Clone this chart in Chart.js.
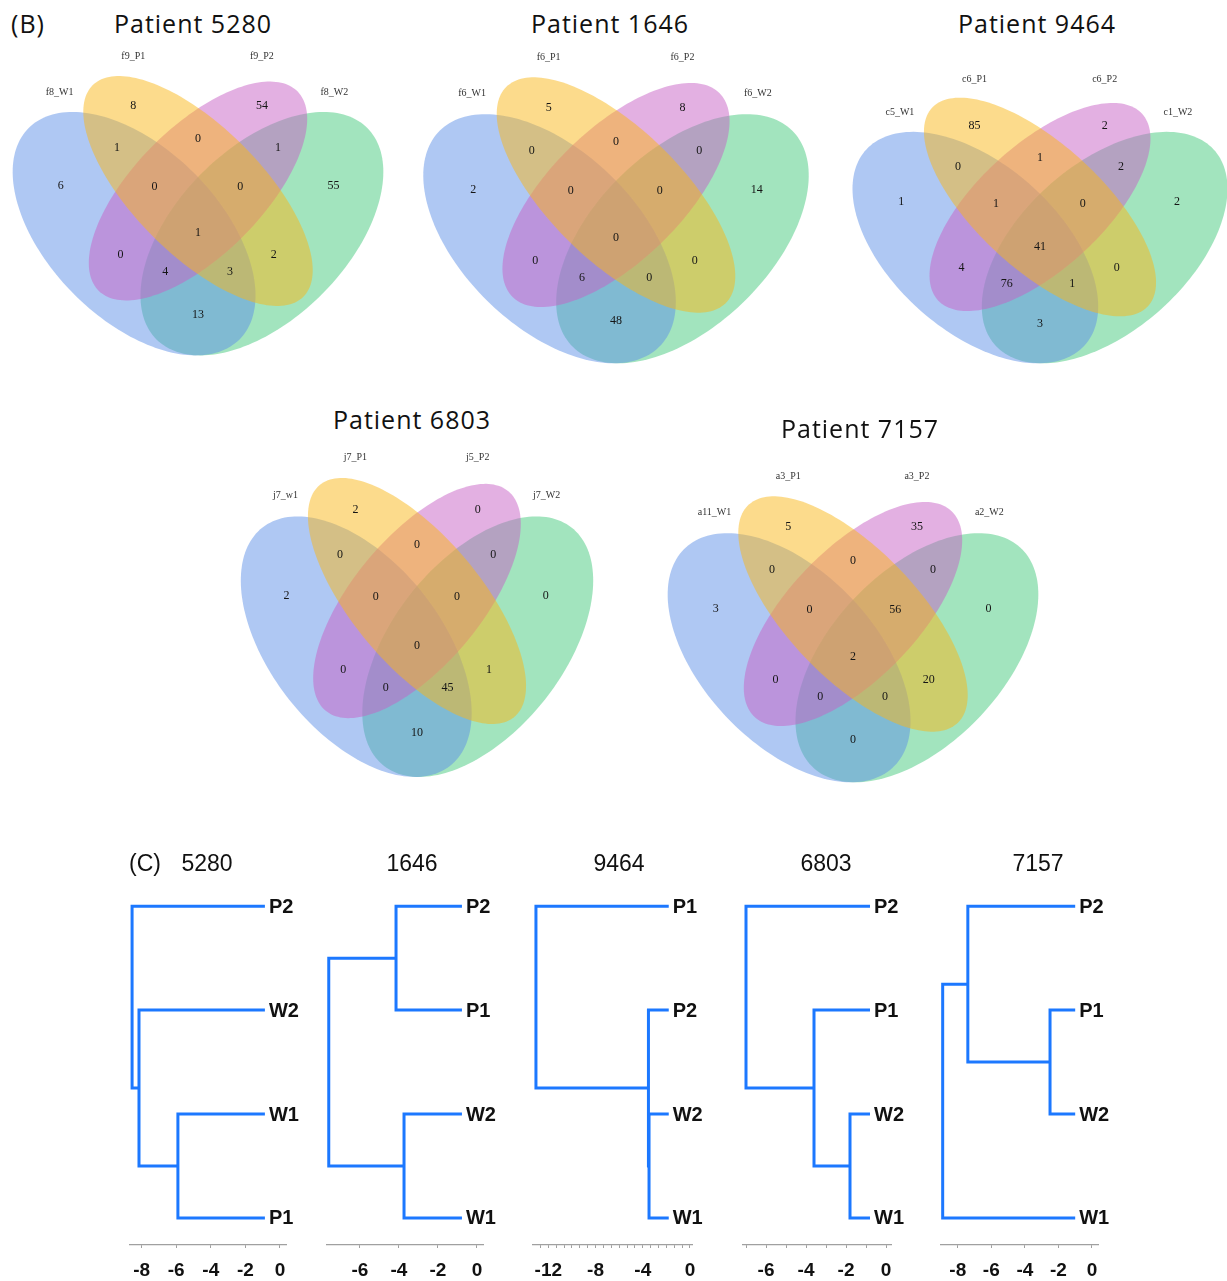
<!DOCTYPE html>
<html>
<head>
<meta charset="utf-8">
<script src="https://cdn.jsdelivr.net/npm/chart.js@4.4.1/dist/chart.umd.min.js"></script>
<style>
  body { margin: 0; background: #fff; }
  #page { position: relative; width: 1227px; height: 1281px; overflow: hidden; }
  #page canvas { position: absolute; }
  .txt { position: absolute; transform: translate(-50%, -50%); white-space: nowrap; line-height: 1; color: #111; }
  .vt { font-family: "Open Sans", sans-serif; font-size: 25px; letter-spacing: 1px; }
  .dt { font-family: "Liberation Sans", Arial, sans-serif; font-size: 23px; }
</style>
</head>
<body>
<div id="page"></div>
<script>
// --- data ---
const patients = ['5280', '1646', '9464', '6803', '7157'];

// Venn regions, same order for every patient
const regionKeys = ['P1', 'P2', 'W1', 'W2', 'W1P1', 'P1P2', 'P2W2', 'W1P1P2', 'P1P2W2',
                    'W1P1P2W2', 'W1P2', 'W1P2W2', 'W1P1W2', 'P1W2', 'W1W2'];

// set names: W1, P1, P2, W2
const sets5280 = ['f8_W1', 'f9_P1', 'f9_P2', 'f8_W2'];
const sets1646 = ['f6_W1', 'f6_P1', 'f6_P2', 'f6_W2'];
const sets9464 = ['c5_W1', 'c6_P1', 'c6_P2', 'c1_W2'];
const sets6803 = ['j7_w1', 'j7_P1', 'j5_P2', 'j7_W2'];
const sets7157 = ['a11_W1', 'a3_P1', 'a3_P2', 'a2_W2'];

const counts5280 = [8, 54, 6, 55, 1, 0, 1, 0, 0, 1, 0, 4, 3, 2, 13];
const counts1646 = [5, 8, 2, 14, 0, 0, 0, 0, 0, 0, 0, 6, 0, 0, 48];
const counts9464 = [85, 2, 1, 2, 0, 1, 2, 1, 0, 41, 4, 76, 1, 0, 3];
const counts6803 = [2, 0, 2, 0, 0, 0, 0, 0, 0, 0, 0, 0, 45, 1, 10];
const counts7157 = [5, 35, 3, 0, 0, 0, 0, 0, 56, 2, 0, 0, 0, 20, 0];

// dendrograms: leaf order (top to bottom) and merges [childA, childB, height]
const leaves5280 = ['P2', 'W2', 'W1', 'P1'];
const leaves1646 = ['P2', 'P1', 'W2', 'W1'];
const leaves9464 = ['P1', 'P2', 'W2', 'W1'];
const leaves6803 = ['P2', 'P1', 'W2', 'W1'];
const leaves7157 = ['P2', 'P1', 'W2', 'W1'];

const merges5280 = [[2, 3, -5.9], [1, 4, -8.15], [0, 5, -8.55]];
const merges1646 = [[0, 1, -4.15], [2, 3, -3.74], [4, 5, -7.6]];
const merges9464 = [[2, 3, -3.47], [1, 4, -3.52], [0, 5, -13.05]];
const merges6803 = [[2, 3, -1.8], [1, 4, -3.6], [0, 5, -7.0]];
const merges7157 = [[1, 2, -2.5], [0, 4, -7.4], [5, 3, -8.9]];

const leafEnd = [-0.87, -0.77, -1.8, -0.8, -1.0];

const tickLabels5280 = [-8, -6, -4, -2, 0];
const tickLabels1646 = [-6, -4, -2, 0];
const tickLabels9464 = [-12, -8, -4, 0];
const tickLabels6803 = [-6, -4, -2, 0];
const tickLabels7157 = [-8, -6, -4, -2, 0];

// --- layout ---
const page = document.getElementById('page');

function addCanvas(left, top, w, h) {
    const c = document.createElement('canvas');
    c.width = w; c.height = h;
    c.style.left = left + 'px'; c.style.top = top + 'px';
    c.style.width = w + 'px'; c.style.height = h + 'px';
    page.appendChild(c);
    return c;
}

function addText(text, x, y, cls) {
    const d = document.createElement('div');
    d.className = 'txt ' + cls;
    d.style.left = x + 'px'; d.style.top = y + 'px';
    d.textContent = text;
    page.appendChild(d);
}

// Venn boxes: [left, top, width, height, centreX, centreY, pxPerUnitX, pxPerUnitY]
const vennBoxes = [
    [0, 40, 410, 330, 198, 191, 426, 427],
    [410, 40, 415, 330, 616, 195, 443, 437],
    [825, 40, 402, 330, 1040, 207, 431, 406],
    [225, 440, 395, 345, 417, 601, 405, 457],
    [640, 440, 420, 345, 853, 614, 426, 437]
];
const vennTitlePos = [[193, 23], [610, 23], [1037, 23], [412, 419], [860, 428]];

// ellipse shapes in unit space (centre at inner crossing), draw order green, blue, pink, yellow
const ellipses = [
    { cx: 0.15, cy: -0.10, a: 0.35, b: 0.20, rot: 45, color: 'rgba(69, 201, 125, 0.5)' },
    { cx: -0.15, cy: -0.10, a: 0.35, b: 0.20, rot: 135, color: 'rgba(95, 145, 231, 0.5)' },
    { cx: 0, cy: 0, a: 0.33, b: 0.15, rot: 45, color: 'rgba(199, 97, 197, 0.5)' },
    { cx: 0, cy: 0, a: 0.35, b: 0.15, rot: 135, color: 'rgba(249, 183, 25, 0.5)' }
];
const setLabelPos = [[-0.325, 0.232], [-0.152, 0.315], [0.15, 0.315], [0.32, 0.232]];
const regionPos = [
    [-0.152, 0.20], [0.15, 0.20], [-0.322, 0.012], [0.318, 0.012],
    [-0.19, 0.10], [0, 0.122], [0.188, 0.10], [-0.102, 0.009], [0.099, 0.009],
    [0, -0.099], [-0.182, -0.15], [-0.077, -0.19], [0.075, -0.19], [0.178, -0.15], [0, -0.289]
];

const vennPlugin = {
    id: 'venn',
    beforeDatasetsDraw(chart) {
        const { ctx, scales: { x, y } } = chart;
        ellipses.forEach(e => {
            const r = e.rot * Math.PI / 180;
            ctx.save();
            ctx.beginPath();
            for (let k = 0; k <= 180; k++) {
                const t = k / 180 * 2 * Math.PI;
                const ux = e.cx + e.a * Math.cos(t) * Math.cos(r) - e.b * Math.sin(t) * Math.sin(r);
                const uy = e.cy + e.a * Math.cos(t) * Math.sin(r) + e.b * Math.sin(t) * Math.cos(r);
                const px = x.getPixelForValue(ux), py = y.getPixelForValue(uy);
                if (k === 0) ctx.moveTo(px, py); else ctx.lineTo(px, py);
            }
            ctx.closePath();
            ctx.fillStyle = e.color;
            ctx.fill();
            ctx.restore();
        });
    },
    afterDatasetsDraw(chart, args, opts) {
        const { ctx, scales: { x, y } } = chart;
        ctx.save();
        ctx.textAlign = 'center';
        ctx.textBaseline = 'middle';
        ctx.fillStyle = '#151515';
        ctx.font = '12px "Liberation Serif", serif';
        const meta = chart.getDatasetMeta(0);
        meta.data.forEach((pt, k) => {
            ctx.fillText(String(chart.data.datasets[0].data[k].v), pt.x, pt.y);
        });
        ctx.fillStyle = '#333';
        ctx.font = '10px "Liberation Serif", serif';
        opts.names.forEach((n, k) => {
            ctx.fillText(n, x.getPixelForValue(setLabelPos[k][0]), y.getPixelForValue(setLabelPos[k][1]));
        });
        ctx.restore();
    }
};

const vennSets = [sets5280, sets1646, sets9464, sets6803, sets7157];
const vennCounts = [counts5280, counts1646, counts9464, counts6803, counts7157];

vennBoxes.forEach((b, i) => {
    const [L, T, W, H, cx, cy, sx, sy] = b;
    const canvas = addCanvas(L, T, W, H);
    new Chart(canvas, {
        type: 'scatter',
        data: {
            datasets: [{
                label: 'regions',
                data: regionPos.map((p, k) => ({ x: p[0], y: p[1], v: vennCounts[i][k] })),
                pointRadius: 0
            }]
        },
        options: {
            responsive: false,
            animation: false,
            layout: { padding: 0 },
            plugins: { legend: { display: false }, tooltip: { enabled: false }, venn: { names: vennSets[i] } },
            scales: {
                x: { type: 'linear', display: false, min: (L - cx) / sx, max: (L + W - cx) / sx },
                y: { type: 'linear', display: false, min: (cy - (T + H)) / sy, max: (cy - T) / sy }
            }
        },
        plugins: [vennPlugin]
    });
    addText('Patient ' + patients[i], vennTitlePos[i][0], vennTitlePos[i][1], 'vt');
});
addText('(B)', 28, 23, 'vt');

// --- dendrograms ---
const dendroLeaves = [leaves5280, leaves1646, leaves9464, leaves6803, leaves7157];
const dendroMerges = [merges5280, merges1646, merges9464, merges6803, merges7157];
const dendroTicks = [tickLabels5280, tickLabels1646, tickLabels9464, tickLabels6803, tickLabels7157];
// axis line pixels and value range, minor tick step
const dendroAxisPx = [[130, 286], [327, 483], [533, 692], [743, 891], [941, 1098]];
const dendroRange = [[-8.67, 0.35], [-7.69, 0.31], [-13.3, 0.17], [-7.15, 0.25], [-9.0, 0.36]];
const dendroStep = [2, 2, 2 / 3, 1, 2];
const dendroTitleX = [207, 412, 619, 826, 1038];
const padL = 22;

const leafLabels = {
    id: 'leafLabels',
    afterDatasetsDraw(chart, args, opts) {
        const { ctx, scales: { x, y } } = chart;
        ctx.save();
        ctx.font = 'bold 20px "Liberation Sans", Arial, sans-serif';
        ctx.fillStyle = '#111';
        ctx.textBaseline = 'middle';
        opts.leaves.forEach((n, k) => {
            ctx.fillText(n, x.getPixelForValue(opts.tip) + 4, y.getPixelForValue(k) + 1);
        });
        ctx.restore();
    }
};

dendroLeaves.forEach((leaves, i) => {
    const [pxL, pxR] = dendroAxisPx[i];
    const canvas = addCanvas(pxL - padL, 870, pxR - pxL + padL + 50, 411);
    const tip = leafEnd[i];
    const nodes = leaves.map((n, k) => ({ h: tip, y: k }));
    const datasets = dendroMerges[i].map(([a, b, h]) => {
        const A = nodes[a], B = nodes[b];
        nodes.push({ h: h, y: (A.y + B.y) / 2 });
        return {
            data: [{ x: A.h, y: A.y }, { x: h, y: A.y }, { x: h, y: B.y }, { x: B.h, y: B.y }],
            showLine: true,
            borderColor: 'rgb(28, 120, 255)',
            borderWidth: 3,
            pointRadius: 0,
            tension: 0,
            fill: false
        };
    });
    const labelled = dendroTicks[i];
    const step = dendroStep[i];
    const [vMin, vMax] = dendroRange[i];
    new Chart(canvas, {
        type: 'scatter',
        data: { datasets: datasets },
        options: {
            responsive: false,
            animation: false,
            layout: { padding: { left: padL, top: 5, right: 50, bottom: 0 } },
            plugins: { legend: { display: false }, tooltip: { enabled: false }, leafLabels: { leaves: leaves, tip: tip } },
            scales: {
                x: {
                    type: 'linear',
                    min: vMin,
                    max: vMax,
                    afterFit: (scale) => { scale.height = 36; },
                    afterBuildTicks: (scale) => {
                        const t = [];
                        for (let k = Math.floor(-vMin / step); k >= 0; k--) t.push({ value: -k * step });
                        scale.ticks = t;
                    },
                    border: { display: true, color: '#a0a0a0', width: 1.2 },
                    grid: { drawOnChartArea: false, drawTicks: true, tickLength: 3, color: '#a0a0a0' },
                    ticks: {
                        autoSkip: false,
                        maxRotation: 0,
                        padding: 11,
                        color: '#111',
                        font: { family: '"Liberation Sans", Arial, sans-serif', size: 19, weight: 'bold' },
                        callback: (v) => {
                            const hit = labelled.find(t => Math.abs(t - v) < 1e-6);
                            return hit === undefined ? '' : String(hit);
                        }
                    }
                },
                y: { type: 'linear', display: false, reverse: true, min: -0.3, max: 3.26 }
            }
        },
        plugins: [leafLabels]
    });
    addText(patients[i], dendroTitleX[i], 863, 'dt');
});
addText('(C)', 145, 863, 'dt');
</script>
</body>
</html>
